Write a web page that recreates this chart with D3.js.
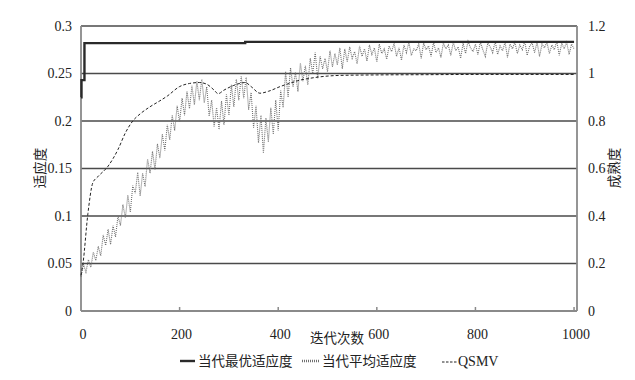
<!DOCTYPE html>
<html><head><meta charset="utf-8">
<script src="https://cdn.jsdelivr.net/npm/d3@7"></script>
<style>
body{margin:0;background:#fff;}
svg{display:block;}
.num{font-family:"Liberation Serif","Times New Roman",serif;font-size:14px;fill:#222;}
.cjk{font-family:"Noto Sans CJK SC","Noto Sans CJK JP",sans-serif;font-size:13.5px;fill:#222;}
</style></head>
<body>
<svg id="chart" width="635" height="380"></svg>
<script>
// ---- data ----
const xTicks = [0, 200, 400, 600, 800, 1000];
const leftTicks = [0, 0.05, 0.1, 0.15, 0.2, 0.25, 0.3];
const leftTickLabels = ["0", "0.05", "0.1", "0.15", "0.2", "0.25", "0.3"];
const rightTicks = [0, 0.2, 0.4, 0.6, 0.8, 1, 1.2];
const rightTickLabels = ["0", "0.2", "0.4", "0.6", "0.8", "1", "1.2"];
const seriesNames = ["当代最优适应度", "当代平均适应度", "QSMV"];

// best fitness of generation (step changes)
const bestIter = [0, 1, 7, 333, 1000];
const bestFitness = [0.225, 0.243, 0.282, 0.2833, 0.2833];

// average fitness of generation, sampled every 5 iterations (0..1000)
const avgStep = 5;
const avgFitness = [
.036,.049,.041,.054,.046,.062,.053,.068,.058,.080,
.069,.086,.070,.090,.078,.100,.090,.112,.098,.122,
.104,.132,.124,.146,.121,.145,.131,.160,.145,.168,
.149,.176,.161,.186,.169,.196,.180,.206,.190,.216,
.199,.224,.206,.231,.213,.237,.217,.242,.222,.244,
.219,.236,.205,.222,.194,.214,.191,.221,.196,.228,
.206,.238,.215,.244,.222,.247,.224,.246,.212,.230,
.193,.216,.177,.206,.166,.203,.178,.214,.186,.222,
.190,.232,.214,.252,.225,.256,.236,.251,.231,.261,
.242,.258,.238,.266,.250,.272,.245,.268,.255,.266,
.252,.274,.257,.271,.259,.277,.255,.276,.262,.278,
.266,.273,.260,.279,.268,.276,.263,.280,.270,.277,
.262,.281,.271,.276,.265,.279,.273,.282,.268,.277,
.264,.280,.272,.283,.269,.276,.274,.281,.266,.282,
.275,.279,.268,.283,.272,.277,.267,.282,.276,.280,
.269,.283,.274,.278,.266,.282,.271,.284,.277,.273,
.281,.270,.283,.275,.268,.282,.278,.272,.284,.270,
.279,.274,.283,.267,.281,.276,.283,.271,.280,.275,
.284,.269,.279,.282,.272,.283,.268,.281,.277,.283,
.271,.280,.275,.284,.269,.282,.276,.283,.270,.281,
.276
];

// QSMV (maturity, right axis)
const qsmvIter = [0,4,14,24,34,55,75,90,105,120,140,160,175,200,220,240,255,270,278,290,310,333,345,363,380,404,425,444,465,485,525,600,700,800,1000];
const qsmvValue = [0.15,0.2,0.41,0.54,0.565,0.61,0.68,0.75,0.8,0.83,0.86,0.885,0.905,0.945,0.958,0.962,0.955,0.93,0.915,0.93,0.95,0.962,0.945,0.917,0.925,0.945,0.96,0.972,0.98,0.986,0.992,0.994,0.995,0.996,0.996];

// ---- layout ----
const svg = d3.select("#chart");
const L = 81, R = 577, T = 26, B = 311;
const x = d3.scaleLinear().domain([0, 1006]).range([L, R]);
const yL = d3.scaleLinear().domain([0, 0.3]).range([B, T]);
const yR = d3.scaleLinear().domain([0, 1.2]).range([B, T]);

// gridlines
svg.append("g").selectAll("line").data(leftTicks.slice(1)).join("line")
  .attr("x1", L).attr("x2", R)
  .attr("y1", d => yL(d)).attr("y2", d => yL(d))
  .attr("stroke", "#4a4a4a").attr("stroke-width", 1.3);

// axes frame
const axisColor = "#8a8a8a";
svg.append("line").attr("x1", L).attr("x2", L).attr("y1", T).attr("y2", B).attr("stroke", axisColor).attr("stroke-width", 1.8);
svg.append("line").attr("x1", R).attr("x2", R).attr("y1", T).attr("y2", B).attr("stroke", axisColor).attr("stroke-width", 1.8);
svg.append("line").attr("x1", L).attr("x2", R).attr("y1", B).attr("y2", B).attr("stroke", axisColor).attr("stroke-width", 1.8);
// x tick marks (inward)
svg.append("g").selectAll("line").data(xTicks.slice(1)).join("line")
  .attr("x1", d => x(d)).attr("x2", d => x(d)).attr("y1", B).attr("y2", B - 4)
  .attr("stroke", axisColor).attr("stroke-width", 1.5);

// tick labels
svg.append("g").selectAll("text").data(leftTicks).join("text")
  .attr("class", "num").attr("x", 72).attr("y", d => yL(d)).attr("dy", "0.35em")
  .attr("text-anchor", "end").text((d, i) => leftTickLabels[i]);
svg.append("g").selectAll("text").data(rightTicks).join("text")
  .attr("class", "num").attr("x", 588).attr("y", d => yR(d)).attr("dy", "0.35em")
  .attr("text-anchor", "start").text((d, i) => rightTickLabels[i]);
svg.append("g").selectAll("text").data(xTicks).join("text")
  .attr("class", "num").attr("x", d => x(d) + 2).attr("y", 339)
  .attr("text-anchor", "middle").text(d => d);

// axis titles
svg.append("text").attr("class", "cjk").attr("transform", "translate(45,168) rotate(-90)")
  .attr("text-anchor", "middle").text("适应度");
svg.append("text").attr("class", "cjk").attr("transform", "translate(619,168) rotate(-90)")
  .attr("text-anchor", "middle").text("成熟度");
svg.append("text").attr("class", "cjk").attr("x", 337).attr("y", 343)
  .attr("text-anchor", "middle").text("迭代次数");

// series
const avgLine = d3.line().x((d, i) => x(i * avgStep)).y(d => yL(d));
svg.append("path").datum(avgFitness).attr("d", avgLine)
  .attr("fill", "none").attr("stroke", "#707070").attr("stroke-width", 1.1)
  .attr("stroke-dasharray", "1,1");

const qLine = d3.line().x((d, i) => x(qsmvIter[i])).y(d => yR(d)).curve(d3.curveMonotoneX);
svg.append("path").datum(qsmvValue).attr("d", qLine)
  .attr("fill", "none").attr("stroke", "#222").attr("stroke-width", 1)
  .attr("stroke-dasharray", "3,2");

const bestLine = d3.line().x((d, i) => x(bestIter[i])).y(d => yL(d)).curve(d3.curveStepAfter);
svg.append("path").datum(bestFitness).attr("d", bestLine)
  .attr("fill", "none").attr("stroke", "#2a2a2a").attr("stroke-width", 2.4);

// legend
const ly = 361;
const lg = svg.append("g");
lg.append("line").attr("x1", 180).attr("x2", 195).attr("y1", ly).attr("y2", ly)
  .attr("stroke", "#2a2a2a").attr("stroke-width", 2.4);
lg.append("text").attr("class", "cjk").attr("x", 198).attr("y", ly).attr("dy", "0.35em").text(seriesNames[0]);
lg.append("line").attr("x1", 302).attr("x2", 320).attr("y1", ly).attr("y2", ly)
  .attr("stroke", "#707070").attr("stroke-width", 2.5).attr("stroke-dasharray", "1,1");
lg.append("text").attr("class", "cjk").attr("x", 322).attr("y", ly).attr("dy", "0.35em").text(seriesNames[1]);
lg.append("line").attr("x1", 442).attr("x2", 457).attr("y1", ly + 1).attr("y2", ly + 1)
  .attr("stroke", "#222").attr("stroke-width", 1).attr("stroke-dasharray", "2.5,1.5");
lg.append("text").attr("class", "num").attr("x", 458).attr("y", ly).attr("dy", "0.35em").text(seriesNames[2]);
</script>
</body></html>
